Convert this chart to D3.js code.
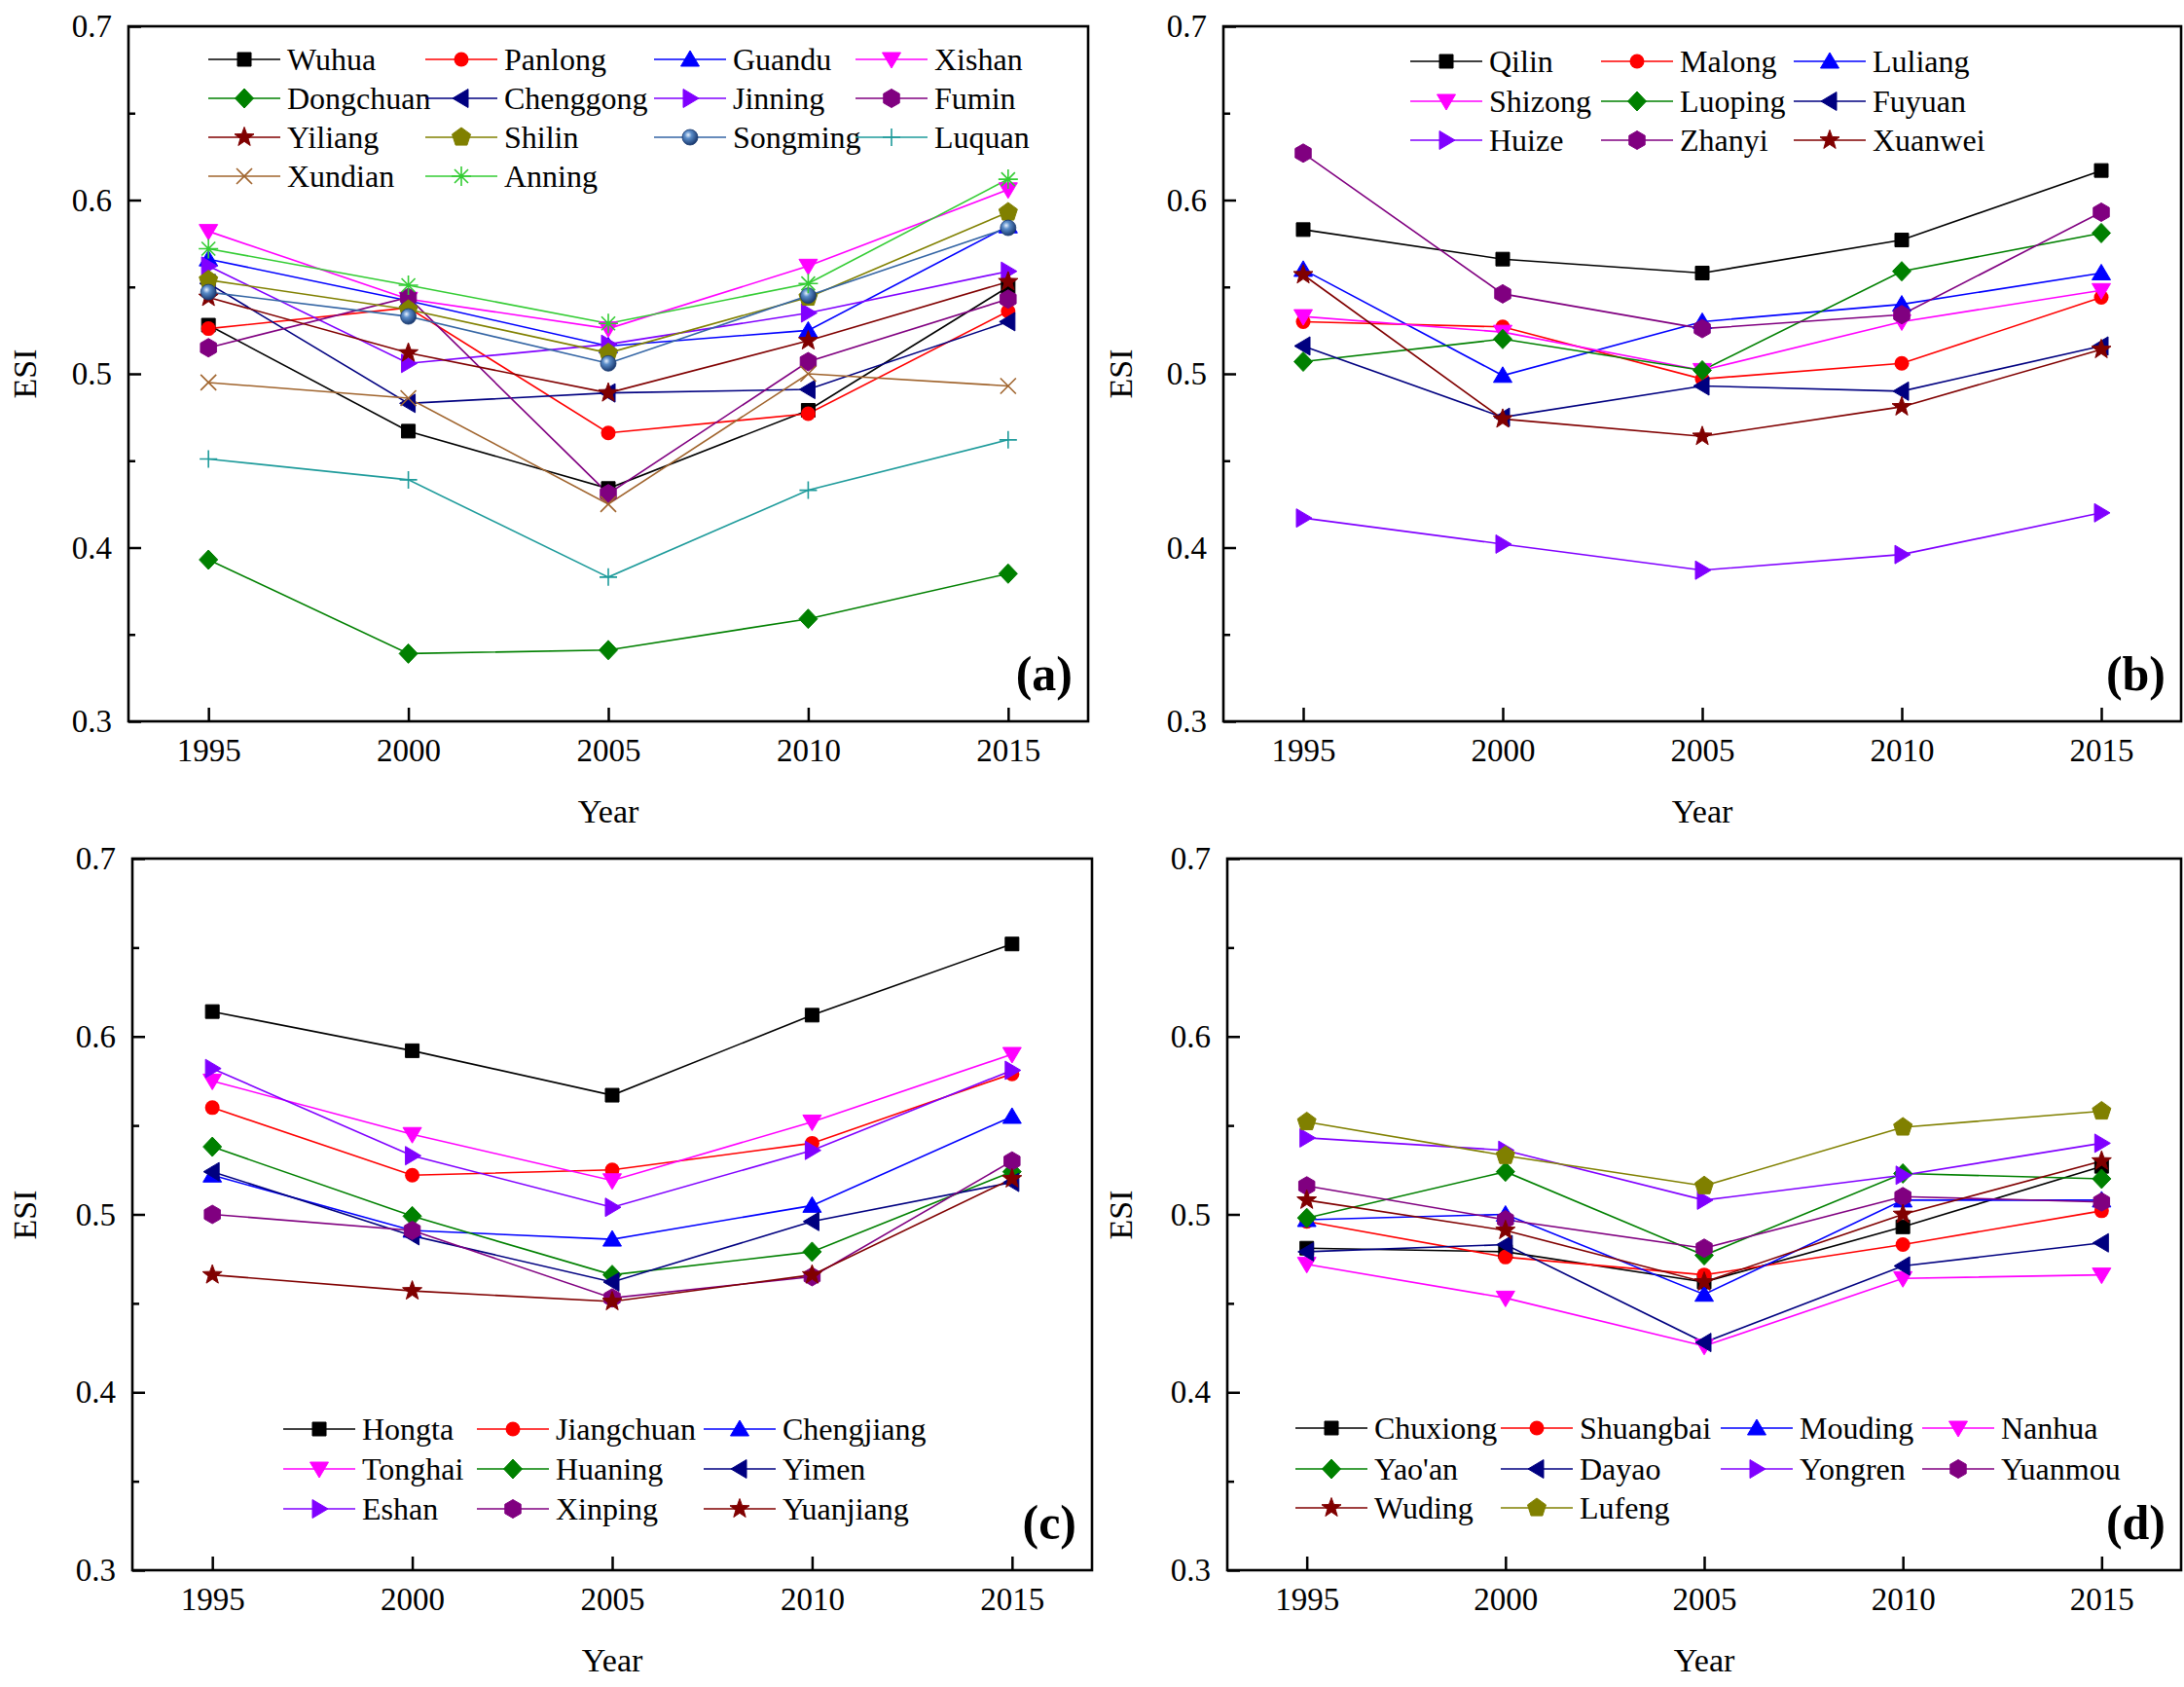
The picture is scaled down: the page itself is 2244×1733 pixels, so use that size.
<!DOCTYPE html>
<html><head><meta charset="utf-8">
<script src="https://cdn.jsdelivr.net/npm/d3@7"></script>
<style>
body{margin:0;background:#fff}
svg{display:block}
text{font-family:"Liberation Serif","Times New Roman",serif;fill:#000}
</style>
</head><body>
<svg id="chart" width="2244" height="1733"></svg>
<script>
// ---------------- DATA ----------------
const years = [1995, 2000, 2005, 2010, 2015];
const yTickValues = [0.3, 0.4, 0.5, 0.6, 0.7];
const yMinorValues = [0.35, 0.45, 0.55, 0.65];

const namesA = ["Wuhua","Panlong","Guandu","Xishan","Dongchuan","Chenggong","Jinning","Fumin","Yiliang","Shilin","Songming","Luquan","Xundian","Anning"];
const valuesA = [
  [0.528, 0.467, 0.434, 0.479, 0.550],
  [0.526, 0.538, 0.466, 0.477, 0.536],
  [0.566, 0.542, 0.516, 0.525, 0.585],
  [0.582, 0.543, 0.526, 0.562, 0.606],
  [0.393, 0.339, 0.341, 0.359, 0.385],
  [0.552, 0.483, 0.489, 0.491, 0.530],
  [0.562, 0.506, 0.517, 0.535, 0.559],
  [0.515, 0.544, 0.431, 0.507, 0.543],
  [0.544, 0.512, 0.489, 0.519, 0.553],
  [0.554, 0.537, 0.512, 0.544, 0.593],
  [0.547, 0.533, 0.506, 0.545, 0.584],
  [0.451, 0.439, 0.383, 0.433, 0.462],
  [0.495, 0.486, 0.425, 0.500, 0.493],
  [0.572, 0.551, 0.529, 0.552, 0.612]
];

const namesB = ["Qilin","Malong","Luliang","Shizong","Luoping","Fuyuan","Huize","Zhanyi","Xuanwei"];
const valuesB = [
  [0.583, 0.566, 0.558, 0.577, 0.617],
  [0.530, 0.527, 0.497, 0.506, 0.544],
  [0.560, 0.499, 0.530, 0.540, 0.558],
  [0.533, 0.524, 0.502, 0.530, 0.548],
  [0.507, 0.520, 0.502, 0.559, 0.581],
  [0.516, 0.475, 0.493, 0.490, 0.516],
  [0.417, 0.402, 0.387, 0.396, 0.420],
  [0.627, 0.546, 0.526, 0.534, 0.593],
  [0.557, 0.474, 0.464, 0.481, 0.514]
];

const namesC = ["Hongta","Jiangchuan","Chengjiang","Tonghai","Huaning","Yimen","Eshan","Xinping","Yuanjiang"];
const valuesC = [
  [0.614, 0.592, 0.567, 0.612, 0.652],
  [0.560, 0.522, 0.525, 0.540, 0.579],
  [0.522, 0.491, 0.486, 0.505, 0.555],
  [0.575, 0.545, 0.519, 0.552, 0.590],
  [0.538, 0.499, 0.466, 0.479, 0.524],
  [0.524, 0.488, 0.462, 0.496, 0.518],
  [0.582, 0.533, 0.504, 0.536, 0.581],
  [0.500, 0.491, 0.453, 0.465, 0.530],
  [0.466, 0.457, 0.451, 0.466, 0.520]
];

const namesD = ["Chuxiong","Shuangbai","Mouding","Nanhua","Yao'an","Dayao","Yongren","Yuanmou","Wuding","Lufeng"];
const valuesD = [
  [0.481, 0.479, 0.462, 0.493, 0.527],
  [0.496, 0.476, 0.466, 0.483, 0.502],
  [0.497, 0.500, 0.455, 0.508, 0.508],
  [0.472, 0.453, 0.426, 0.464, 0.466],
  [0.498, 0.524, 0.477, 0.523, 0.520],
  [0.479, 0.483, 0.428, 0.471, 0.484],
  [0.543, 0.536, 0.508, 0.522, 0.540],
  [0.516, 0.497, 0.481, 0.510, 0.507],
  [0.508, 0.491, 0.462, 0.500, 0.530],
  [0.552, 0.533, 0.516, 0.549, 0.558]
];

const panelLabels = ["(a)", "(b)", "(c)", "(d)"];

// ---------------- STYLES ----------------
const seriesColors = ["#000000","#ff0000","#0000ff","#ff00ff","#008000","#000080","#8000ff","#800080","#800000","#808000","#3465a4","#1e9b9b","#a0642d","#33cc33"];
const seriesShapes = ["square","circle","triUp","triDown","diamond","triLeft","triRight","hexagon","star","pentagon","sphere","plus","cross","asterisk"];

const panels = [
  {names: namesA, values: valuesA, label: panelLabels[0], left: 132, top: 27, right: 1118, bottom: 741,
   legendCols: [214, 437, 672, 879], legendRows: [61, 101, 141, 181], esiX: 26, esiY: 384},
  {names: namesB, values: valuesB, label: panelLabels[1], left: 1257, top: 27, right: 2241, bottom: 741,
   legendCols: [1449, 1645, 1843], legendRows: [63, 104, 144], esiX: 1152, esiY: 384},
  {names: namesC, values: valuesC, label: panelLabels[2], left: 136, top: 882, right: 1122, bottom: 1613,
   legendCols: [291, 490, 723], legendRows: [1468, 1509, 1550], esiX: 26, esiY: 1248},
  {names: namesD, values: valuesD, label: panelLabels[3], left: 1261, top: 882, right: 2241, bottom: 1613,
   legendCols: [1331, 1542, 1768, 1975], legendRows: [1467, 1509, 1549], esiX: 1152, esiY: 1248}
];

const svg = d3.select("#chart");
const defs = svg.append("defs");
const grad = defs.append("radialGradient").attr("id", "sphereGrad")
  .attr("cx", "38%").attr("cy", "35%").attr("r", "65%");
grad.append("stop").attr("offset", "0%").attr("stop-color", "#e8f2ff");
grad.append("stop").attr("offset", "35%").attr("stop-color", "#5a8cc8");
grad.append("stop").attr("offset", "100%").attr("stop-color", "#1a3a70");

function polyPath(n, r, rot, r2) {
  const p = d3.path();
  const count = r2 ? n * 2 : n;
  for (let i = 0; i < count; i++) {
    const rr = r2 ? (i % 2 === 0 ? r : r2) : r;
    const a = rot + i * 2 * Math.PI / count;
    const x = rr * Math.cos(a), y = rr * Math.sin(a);
    if (i === 0) p.moveTo(x, y); else p.lineTo(x, y);
  }
  p.closePath();
  return p.toString();
}

function drawMarker(g, shape, color, cx, cy) {
  const m = g.append("g").attr("transform", `translate(${cx},${cy})`);
  const filled = (d) => m.append("path").attr("d", d).attr("fill", color).attr("stroke", color).attr("stroke-width", 1);
  const stroked = (d) => m.append("path").attr("d", d).attr("fill", "none").attr("stroke", color).attr("stroke-width", 1.6);
  switch (shape) {
    case "square": filled("M-7,-7H7V7H-7Z"); break;
    case "circle": m.append("circle").attr("r", 7.5).attr("fill", color); break;
    case "triUp": filled("M0,-9L9.5,7L-9.5,7Z"); break;
    case "triDown": filled("M0,9L9.5,-7L-9.5,-7Z"); break;
    case "triLeft": filled("M-9,0L7,-9.5L7,9.5Z"); break;
    case "triRight": filled("M9,0L-7,-9.5L-7,9.5Z"); break;
    case "diamond": filled("M0,-10L9.5,0L0,10L-9.5,0Z"); break;
    case "hexagon": filled(polyPath(6, 9.5, -Math.PI / 2)); break;
    case "star": filled(polyPath(5, 10.5, -Math.PI / 2, 4.3)); break;
    case "pentagon": filled(polyPath(5, 10, -Math.PI / 2)); break;
    case "sphere": m.append("circle").attr("r", 8).attr("fill", "url(#sphereGrad)").attr("stroke", "#1a3a70").attr("stroke-width", 0.8); break;
    case "plus": stroked("M-9,0H9M0,-9V9"); break;
    case "cross": stroked("M-8,-8L8,8M-8,8L8,-8"); break;
    case "asterisk": stroked("M-10,0H10M0,-10V10M-7,-7L7,7M-7,7L7,-7"); break;
  }
}

panels.forEach((P) => {
  const g = svg.append("g");
  const x = d3.scaleLinear().domain([1993, 2017]).range([P.left, P.right]);
  const y = d3.scaleLinear().domain([0.3, 0.7]).range([P.bottom, P.top]);

  // Y axis (major, inward ticks)
  const yAxis = g.append("g").attr("transform", `translate(${P.left},0)`)
    .call(d3.axisLeft(y).tickValues(yTickValues).tickFormat(d3.format(".1f")).tickSize(-13).tickPadding(17));
  yAxis.select(".domain").remove();
  yAxis.selectAll("line").attr("stroke", "#000").attr("stroke-width", 2.5);
  yAxis.selectAll("text").attr("font-size", 33).attr("font-family", "Liberation Serif");
  const yMinor = g.append("g").attr("transform", `translate(${P.left},0)`)
    .call(d3.axisLeft(y).tickValues(yMinorValues).tickFormat("").tickSize(-7));
  yMinor.select(".domain").remove();
  yMinor.selectAll("line").attr("stroke", "#000").attr("stroke-width", 2.5);

  // X axis
  const xAxis = g.append("g").attr("transform", `translate(0,${P.bottom})`)
    .call(d3.axisBottom(x).tickValues(years).tickFormat(d3.format("d")).tickSize(-14).tickPadding(18));
  xAxis.select(".domain").remove();
  xAxis.selectAll("line").attr("stroke", "#000").attr("stroke-width", 2.5);
  xAxis.selectAll("text").attr("font-size", 33).attr("font-family", "Liberation Serif");

  // Frame
  g.append("rect").attr("x", P.left).attr("y", P.top)
    .attr("width", P.right - P.left).attr("height", P.bottom - P.top)
    .attr("fill", "none").attr("stroke", "#000").attr("stroke-width", 2.6);

  // Axis titles
  g.append("text").attr("x", (P.left + P.right) / 2).attr("y", P.bottom + 104)
    .attr("text-anchor", "middle").attr("font-size", 34).text("Year");
  g.append("text").attr("transform", `translate(${P.esiX + 11},${P.esiY}) rotate(-90)`)
    .attr("text-anchor", "middle").attr("font-size", 34).text("ESI");

  // Series
  const line = d3.line().x((d, i) => x(years[i])).y(d => y(d));
  P.values.forEach((vals, si) => {
    g.append("path").datum(vals).attr("d", line)
      .attr("fill", "none").attr("stroke", seriesColors[si]).attr("stroke-width", 1.6);
  });
  P.values.forEach((vals, si) => {
    vals.forEach((v, i) => drawMarker(g, seriesShapes[si], seriesColors[si], x(years[i]), y(v)));
  });

  // Legend
  const nc = P.legendCols.length;
  P.names.forEach((name, si) => {
    const lx = P.legendCols[si % nc];
    const ly = P.legendRows[Math.floor(si / nc)];
    g.append("line").attr("x1", lx).attr("x2", lx + 74).attr("y1", ly).attr("y2", ly)
      .attr("stroke", seriesColors[si]).attr("stroke-width", 1.6);
    drawMarker(g, seriesShapes[si], seriesColors[si], lx + 37, ly);
    g.append("text").attr("x", lx + 81).attr("y", ly).attr("dy", "0.35em")
      .attr("font-size", 32).text(name);
  });

  // Panel label
  g.append("text").attr("x", P.right - 16).attr("y", P.bottom - 32)
    .attr("text-anchor", "end").attr("font-size", 50).attr("font-weight", "bold").text(P.label);
});
</script>
</body></html>
